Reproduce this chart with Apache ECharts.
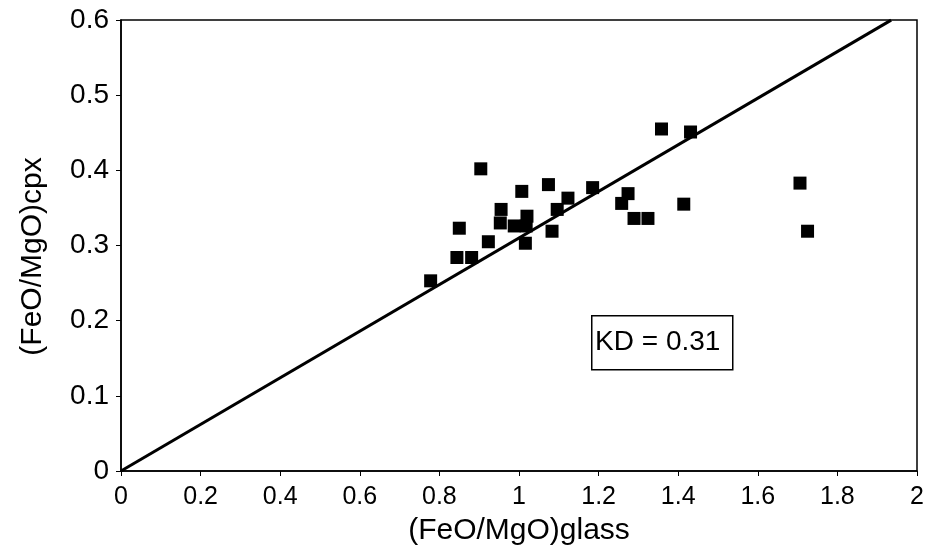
<!DOCTYPE html>
<html>
<head>
<meta charset="utf-8">
<script src="https://cdn.jsdelivr.net/npm/echarts@6/dist/echarts.min.js"></script>
<style>
  html, body { margin: 0; padding: 0; background: #fff; }
  #container { width: 935px; height: 557px; }
</style>
</head>
<body>
<div id="container"></div>
<script>
// 数据: (FeO/MgO)glass vs (FeO/MgO)cpx
var glassX = [0.778, 0.844, 0.881, 0.850, 0.923, 0.904, 0.955, 0.953, 0.988, 1.020,
    1.018, 1.007, 1.016, 1.074, 1.083, 1.096, 1.123, 1.185, 1.258, 1.274,
    1.289, 1.324, 1.358, 1.431, 1.414, 1.706, 1.725];
var cpxY = [0.253, 0.284, 0.284, 0.323, 0.305, 0.402, 0.348, 0.330, 0.326, 0.339,
    0.326, 0.372, 0.303, 0.381, 0.319, 0.348, 0.363, 0.377, 0.356, 0.369,
    0.336, 0.336, 0.455, 0.451, 0.355, 0.383, 0.319];
var kd = 0.31;
var lineX = [0, 1.935];

var font = "Liberation Sans, Arial, sans-serif";

window.onload = function() {
    var myChart = echarts.init(document.getElementById("container"));

    var points = [];
    for (var i = 0; i < glassX.length; i++) {
        points.push([glassX[i], cpxY[i]]);
    }
    var kdLine = lineX.map(function(x) { return [x, kd * x]; });

    myChart.setOption({
        backgroundColor: "#fff",
        animation: false,
        grid: {
            left: 121, right: 18, top: 20, bottom: 86,
            show: true, borderColor: "#000", borderWidth: 1.5
        },
        xAxis: {
            type: "value", min: 0, max: 2, interval: 0.2,
            name: "(FeO/MgO)glass", nameLocation: "middle", nameGap: 45,
            nameTextStyle: { fontFamily: font, fontSize: 30, color: "#000" },
            axisLine: { lineStyle: { color: "#000", width: 1.5 } },
            axisTick: { length: 5, lineStyle: { color: "#000" } },
            axisLabel: {
                fontFamily: font, fontSize: 25, color: "#000", margin: 14,
                formatter: function(v) { return String(+v.toFixed(1)); }
            },
            splitLine: { show: false }
        },
        yAxis: {
            type: "value", min: 0, max: 0.6, interval: 0.1,
            name: "(FeO/MgO)cpx", nameLocation: "middle", nameGap: 73,
            nameTextStyle: { fontFamily: font, fontSize: 30, color: "#000", padding: [0, 22, 0, 0] },
            axisLine: { lineStyle: { color: "#000", width: 1.5 } },
            axisTick: { length: 5, lineStyle: { color: "#000" } },
            axisLabel: {
                fontFamily: font, fontSize: 28, color: "#000", margin: 12,
                formatter: function(v) { return String(+v.toFixed(1)); }
            },
            splitLine: { show: false }
        },
        series: [{
            type: "line",
            data: kdLine,
            symbol: "none",
            lineStyle: { color: "#000", width: 3 },
            silent: true,
            z: 1
        }, {
            type: "scatter",
            data: points,
            symbol: "rect",
            symbolSize: 13,
            itemStyle: { color: "#000", opacity: 1 },
            z: 2
        }],
        graphic: [{
            type: "group",
            left: 591, top: 315,
            children: [{
                type: "rect",
                shape: { x: 0, y: 0, width: 141, height: 54 },
                style: { fill: "#fff", stroke: "#000", lineWidth: 1.5 }
            }, {
                type: "text",
                x: 66, y: 27,
                style: {
                    text: "KD = 0.31", fill: "#000",
                    font: "28px Liberation Sans, Arial, sans-serif",
                    align: "center", verticalAlign: "middle"
                }
            }]
        }]
    });
};
</script>
</body>
</html>
